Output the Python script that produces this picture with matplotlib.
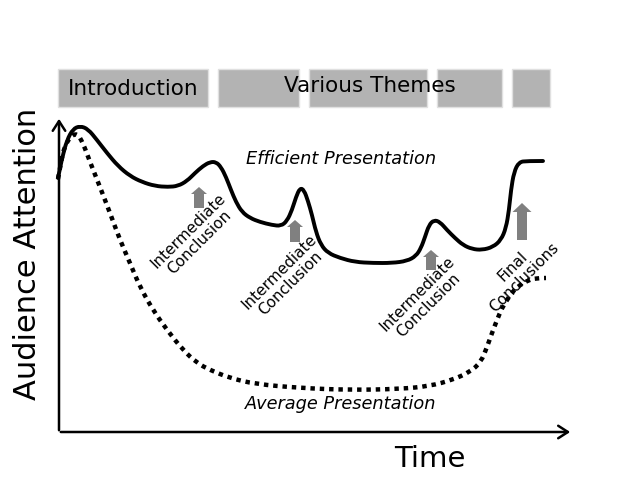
import matplotlib
matplotlib.use("Agg")
import matplotlib.pyplot as plt
from matplotlib.patches import Rectangle, PathPatch
from matplotlib.path import Path

# curves (x = time, y = attention, in picture pixels)
eff_x = [58, 62, 67, 73, 80, 88, 97, 107, 118, 130, 142, 155, 168, 178, 187, 195, 203, 210, 216, 221,
         226, 231, 236, 242, 250, 260, 272, 281, 287, 292, 296, 300, 304, 308, 312, 316, 321, 328, 340,
         355, 373, 392, 407, 416, 421, 425, 429, 434, 440, 447, 455, 463, 472, 482, 493, 501, 506, 509,
         511, 514, 519, 527, 543]
eff_y = [178, 158, 140, 129, 126, 129, 140, 153, 166, 176, 182, 186, 187, 186, 181, 173, 166, 162, 162, 167,
         177, 190, 202, 212, 218, 222, 225, 226, 221, 210, 197, 188, 190, 201, 215, 232, 245, 253, 258,
         262, 263, 263, 261, 256, 248, 237, 225, 220, 222, 230, 238, 245, 249, 250, 247, 240, 228, 210,
         190, 172, 162, 161, 161]

avg_x = [58, 61, 64, 70, 77, 83, 90, 100, 110, 120, 130, 140, 153, 167, 183, 197, 210, 230, 255,
         300, 350, 400, 430, 452, 470, 481, 487, 492, 497, 502, 507, 513, 520, 527, 535, 546]
avg_y = [179, 162, 148, 137, 133, 143, 162, 187, 213, 240, 263, 287, 310, 330, 350, 363, 370, 378, 384,
         388, 390, 389, 386, 380, 372, 362, 347, 333, 320, 308, 300, 291, 285, 281, 278, 278]

# top bars: (left, right)
bar_left = [58, 218, 309, 437, 512]
bar_right = [208, 299, 427, 502, 550]

# upward arrows: x, base, tip
arrow_x = [199, 295, 431, 522]
arrow_base = [208, 242, 270, 240]
arrow_tip = [187, 220, 250, 203]

labels = ["Intermediate\nConclusion", "Intermediate\nConclusion", "Intermediate\nConclusion", "Final\nConclusions"]
label_x = [194, 285, 423, 518]
label_y = [237, 278, 300, 272]


def smooth_path(xs, ys):
    # quadratic bezier through midpoints, read points act as control points
    pts = list(zip(xs, ys))
    verts = [pts[0]]
    codes = [Path.MOVETO]
    for i in range(1, len(pts) - 1):
        mid = ((pts[i][0] + pts[i + 1][0]) / 2, (pts[i][1] + pts[i + 1][1]) / 2)
        if i == len(pts) - 2:
            mid = pts[-1]
        verts += [pts[i], mid]
        codes += [Path.CURVE3, Path.CURVE3]
    return Path(verts, codes)


fig = plt.figure(figsize=(6.4, 4.8), dpi=100)
ax = fig.add_axes([0, 0, 1, 1])
ax.set_xlim(0, 640)
ax.set_ylim(480, 0)
ax.axis("off")

# bars at top
for l, r in zip(bar_left, bar_right):
    ax.add_patch(Rectangle((l, 69), r - l, 38, facecolor="#b3b3b3", edgecolor="#e0e0e0", lw=1))
ax.text(133, 89, "Introduction", fontsize=15.5, ha="center", va="center")
ax.text(370, 86, "Various Themes", fontsize=15.5, ha="center", va="center")

# axes with arrows
ax.annotate("", xy=(59, 116), xytext=(59, 433),
            arrowprops=dict(arrowstyle="->,head_length=0.7,head_width=0.45", lw=1.8, color="black"))
ax.annotate("", xy=(573, 432), xytext=(58, 432),
            arrowprops=dict(arrowstyle="->,head_length=0.7,head_width=0.45", lw=1.8, color="black"))
ax.text(28, 254, "Audience Attention", fontsize=22, rotation=90, ha="center", va="center")
ax.text(430, 459, "Time", fontsize=21, ha="center", va="center")

# curves
ax.add_patch(PathPatch(smooth_path(avg_x, avg_y), facecolor="none", edgecolor="black", lw=3.2,
                       linestyle=(0, (1, 1.1)), capstyle="butt"))
ax.add_patch(PathPatch(smooth_path(eff_x, eff_y), facecolor="none", edgecolor="black", lw=2.8,
                       capstyle="round", joinstyle="round"))

ax.text(341, 159, "Efficient Presentation", fontsize=12.8, style="italic", ha="center", va="center")
ax.text(341, 404, "Average Presentation", fontsize=12.8, style="italic", ha="center", va="center")

# gray arrows and labels
for i in range(len(arrow_x)):
    big = i == len(arrow_x) - 1
    ax.arrow(arrow_x[i], arrow_base[i], 0, arrow_tip[i] - arrow_base[i], width=10,
             head_width=19 if big else 16, head_length=9 if big else 7,
             length_includes_head=True, color="#808080", lw=0)
    ax.text(label_x[i], label_y[i], labels[i], fontsize=11, rotation=45, ha="center", va="center",
            multialignment="center", rotation_mode="anchor", linespacing=1.1)

fig.savefig("out.png", dpi=100)
